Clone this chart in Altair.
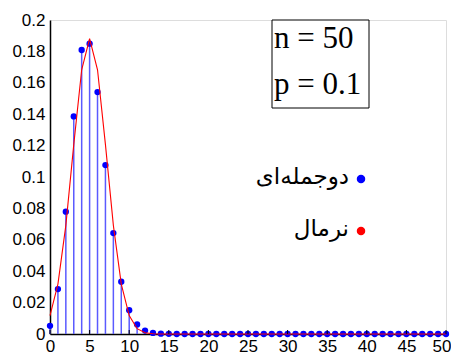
import altair as alt
import pandas as pd

# k values 0..50
k_values = list(range(0, 51))

# Binomial(50, 0.1) probabilities (k = 0..15, rest ~0)
binom_head = [0.0052, 0.0286, 0.0779, 0.1386, 0.1809, 0.1849, 0.1541, 0.1076,
              0.0643, 0.0333, 0.0152, 0.0061, 0.0022, 0.0007, 0.0002, 0.0001]
binom_values = binom_head + [0.0] * (51 - len(binom_head))

# Normal approximation values at integers (k = 0..13, rest ~0)
normal_head = [0.0117, 0.0318, 0.0692, 0.1206, 0.1683, 0.1881, 0.1683, 0.1206,
               0.0692, 0.0318, 0.0117, 0.0034, 0.0008, 0.0002]
normal_values = normal_head + [0.0] * (51 - len(normal_head))

x_ticks = [0, 5, 10, 15, 20, 25, 30, 35, 40, 45, 50]
y_ticks = [0, 0.02, 0.04, 0.06, 0.08, 0.1, 0.12, 0.14, 0.16, 0.18, 0.2]

param_lines = ["n = 50", "p = 0.1"]
legend_labels = ["دوجمله‌ای", "نرمال"]
legend_colors = ["#0000ff", "#ff0000"]

df = pd.DataFrame({"k": k_values, "binom": binom_values, "normal": normal_values})
ticks_df = pd.DataFrame({"t": x_ticks})

W, H = 396, 314

xs = alt.Scale(domain=[0, 50], nice=False, zero=False)
ys = alt.Scale(domain=[0, 0.2], nice=False)

x_axis = alt.Axis(values=x_ticks, title=None, grid=False, ticks=False,
                  labelFont="Liberation Sans", labelFontSize=17, labelColor="black",
                  domainColor="black", domainWidth=1.5, labelPadding=4,
                  labelFlush=False, labelOverlap=False, labelBound=False,
                  labelAlign={"condition": {"test": "datum.value == 50", "value": "right"},
                              "value": "center"},
                  labelOffset={"condition": {"test": "datum.value == 50", "value": 5},
                               "value": 0})
y_axis = alt.Axis(values=y_ticks, title=None, grid=False, ticks=False,
                  labelFont="Liberation Sans", labelFontSize=17, labelColor="black",
                  domainColor="black", domainWidth=1.5, labelPadding=5,
                  labelOverlap=False, labelFlush=False, labelBound=False,
                  labelExpr="datum.value == 0 ? '0' : format(datum.value, '.2~f')")


def xenc(field):
    return alt.X(field, type="quantitative", scale=xs, axis=x_axis)


def yenc(field):
    return alt.Y(field, type="quantitative", scale=ys, axis=y_axis)


base = alt.Chart(df)

stems = base.mark_rule(color="#5a5aff", strokeWidth=1.5).encode(
    x=xenc("k"), y=yenc("binom"), y2=alt.datum(0),
)

dots = base.mark_circle(color="#0000ff", opacity=1, size=40).encode(
    x=xenc("k"), y=yenc("binom"),
)

normal_line = base.mark_line(color="#ff0000", strokeWidth=1.1).encode(
    x=xenc("k"), y=yenc("normal"),
)

tick_marks = alt.Chart(ticks_df).mark_rule(color="black", strokeWidth=1).encode(
    x=xenc("t"), y=alt.value(H), y2=alt.value(H - 4),
)

anchor = pd.DataFrame({"a": [0]})

box = alt.Chart(anchor).mark_rect(fill="white", stroke="black", strokeWidth=1).encode(
    x=alt.value(222), x2=alt.value(319), y=alt.value(0), y2=alt.value(88)
)

param_layers = []
for line, ypix in zip(param_lines, [28, 74]):
    param_layers.append(
        alt.Chart(anchor).mark_text(
            font="Liberation Serif", fontSize=31, align="left", baseline="alphabetic",
            color="black", text=line
        ).encode(x=alt.value(224), y=alt.value(ypix))
    )

legend_layers = []
for label, color, ypix in zip(legend_labels, legend_colors, [159, 211]):
    legend_layers.append(
        alt.Chart(anchor).mark_circle(size=72, opacity=1, color=color).encode(
            x=alt.value(311), y=alt.value(ypix)
        )
    )
    legend_layers.append(
        alt.Chart(anchor).mark_text(
            font="DejaVu Sans", fontSize=23, align="right", baseline="middle",
            color="black", text=label
        ).encode(x=alt.value(299), y=alt.value(ypix - 2))
    )

chart = alt.layer(
    stems, dots, normal_line, tick_marks, box, *param_layers, *legend_layers
).properties(
    width=W, height=H,
    autosize=alt.AutoSizeParams(type="none"),
    padding={"left": 42, "top": 12, "right": 5, "bottom": 20},
).configure_view(stroke=None).configure_axis(labelOverlap=False).configure(background="white")

chart.save("out.html", embed_options={"renderer": "svg", "actions": False})
